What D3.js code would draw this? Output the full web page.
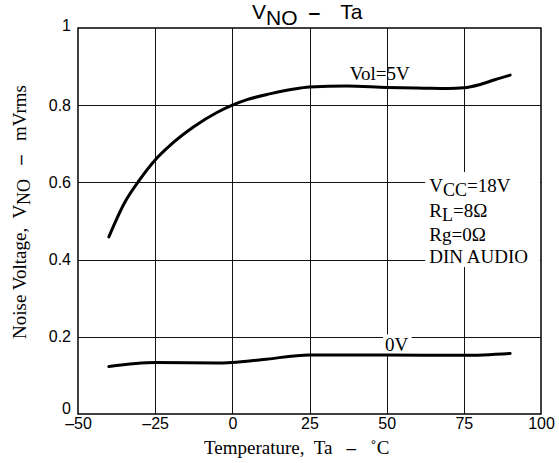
<!DOCTYPE html>
<html>
<head>
<meta charset="utf-8">
<script src="https://cdn.jsdelivr.net/npm/d3@7"></script>
<style>
  body { margin: 0; background: #fff; }
  svg { display: block; }
  text { white-space: pre; }
</style>
</head>
<body>
<svg width="559" height="463"></svg>
<script>
// curve data
var temps5 = [-40, -35, -30, -25, -20, -12.5, -5, 0, 5, 12.5, 20, 25, 37, 50, 62, 70, 75, 80, 85, 90];
var vol5 = [0.459, 0.546, 0.607, 0.658, 0.697, 0.744, 0.781, 0.800, 0.815, 0.830, 0.842, 0.847, 0.850, 0.846, 0.844, 0.843, 0.845, 0.853, 0.866, 0.878];
var temps0 = [-40, -25, -5, 0, 10, 25, 50, 75, 90];
var vol0 = [0.123, 0.1335, 0.132, 0.1335, 0.141, 0.153, 0.153, 0.152, 0.157];

var xTicks = [-50, -25, 0, 25, 50, 75, 100];
var yTicks = [0, 0.2, 0.4, 0.6, 0.8, 1];
var notes = ['VCC=18V', 'RL=8Ω', 'Rg=0Ω', 'DIN AUDIO'];

var svg = d3.select('svg');

var scaleX = d3.scaleLinear().domain([-50, 100]).range([78, 541]);
var scaleY = d3.scaleLinear().domain([0, 1]).range([414, 28]);

var sans = '"Liberation Sans Narrow", "Arial Narrow", "Liberation Sans", sans-serif';
var serif = '"Liberation Serif", "Times New Roman", serif';

// grid
var grid = svg.append('g').attr('stroke', '#111').attr('stroke-width', 1);
grid.selectAll('line.v')
    .data(xTicks.slice(1, -1))
    .enter()
    .append('line')
    .attr('x1', function(d){ return Math.round(scaleX(d)) + 0.5; })
    .attr('x2', function(d){ return Math.round(scaleX(d)) + 0.5; })
    .attr('y1', scaleY(1))
    .attr('y2', scaleY(0));
grid.selectAll('line.h')
    .data(yTicks.slice(1, -1))
    .enter()
    .append('line')
    .attr('y1', function(d){ return Math.round(scaleY(d)) + 0.5; })
    .attr('y2', function(d){ return Math.round(scaleY(d)) + 0.5; })
    .attr('x1', scaleX(-50))
    .attr('x2', scaleX(100));

var masks = svg.append('g');
var curves = svg.append('g');
var labels = svg.append('g').attr('font-family', serif).attr('font-size', 19);

// curves
var line = d3.line()
    .x(function(d){ return scaleX(d[0]); })
    .y(function(d){ return scaleY(d[1]); })
    .curve(d3.curveMonotoneX);

curves.append('path')
    .datum(d3.zip(temps5, vol5))
    .attr('d', line)
    .attr('fill', 'none')
    .attr('stroke', '#000')
    .attr('stroke-width', 3)
    .attr('stroke-linecap', 'round');

curves.append('path')
    .datum(d3.zip(temps0, vol0))
    .attr('d', line)
    .attr('fill', 'none')
    .attr('stroke', '#000')
    .attr('stroke-width', 3)
    .attr('stroke-linecap', 'round');

// curve labels
labels.append('text')
    .attr('x', scaleX(38))
    .attr('y', scaleY(0.866))
    .text('Vol=5V');

var zeroLabel = labels.append('text')
    .attr('x', scaleX(49.5))
    .attr('y', scaleY(0.162))
    .text('0V');
var zb = zeroLabel.node().getBBox();
masks.append('rect')
    .attr('x', zb.x - 2).attr('y', zb.y)
    .attr('width', zb.width + 5).attr('height', zb.height)
    .attr('fill', '#fff');

// condition notes
var noteX = scaleX(63.8);
var noteY = [192, 217, 241, 263];
var noteG = labels.append('g');
notes.forEach(function(n, i){
    var t = noteG.append('text').attr('x', noteX).attr('y', noteY[i]);
    if (i < 2) {
        var main = n.slice(0, 1);
        var sub = i === 0 ? 'CC' : 'L';
        var rest = n.slice(1 + sub.length);
        t.append('tspan').text(main);
        t.append('tspan').attr('dy', 4).attr('font-size', 18).text(sub);
        t.append('tspan').attr('dy', -4).text(rest);
    } else {
        t.text(n);
    }
});
masks.append('rect')
    .attr('x', noteX - 4).attr('y', 172)
    .attr('width', scaleX(100) - noteX + 3).attr('height', 95)
    .attr('fill', '#fff');

// border
svg.append('rect')
    .attr('x', scaleX(-50)).attr('y', scaleY(1))
    .attr('width', scaleX(100) - scaleX(-50))
    .attr('height', scaleY(0) - scaleY(1))
    .attr('fill', 'none')
    .attr('stroke', '#000')
    .attr('stroke-width', 1.5);

// axes (labels only)
var xAxis = svg.append('g')
    .attr('transform', 'translate(0,' + scaleY(0) + ')')
    .call(d3.axisBottom(scaleX).tickValues(xTicks).tickSize(0).tickPadding(4)
        .tickFormat(function(d){ return d < 0 ? '\u2013' + Math.abs(d) : d; }));
var yAxis = svg.append('g')
    .attr('transform', 'translate(' + scaleX(-50) + ',0)')
    .call(d3.axisLeft(scaleY).tickValues(yTicks).tickSize(0).tickPadding(7)
        .tickFormat(function(d){ return d; }));
svg.selectAll('.domain').remove();
svg.selectAll('.tick text')
    .attr('font-family', sans)
    .attr('font-size', 16)
    .attr('fill', '#000');
yAxis.selectAll('.tick text').attr('dy', function(d){ return d === 0 ? '-0.05em' : d === 1 ? '0.15em' : '0.32em'; });

// title
var title = svg.append('text')
    .attr('x', 252)
    .attr('y', 18.5)
    .attr('font-family', '"Liberation Sans", Arial, sans-serif')
    .attr('font-size', 21);
title.append('tspan').text('V');
title.append('tspan').attr('dy', 6).text('NO');
title.append('tspan').attr('dy', -6).attr('dx', 11).attr('font-weight', 'bold').text('\u2013');
title.append('tspan').attr('dx', 20).text('Ta');

// axis titles
var xTitle = svg.append('text')
    .attr('x', 204)
    .attr('y', 454)
    .attr('font-family', serif)
    .attr('font-size', 19);
xTitle.append('tspan').text('Temperature,  Ta   ');
xTitle.append('tspan').attr('font-weight', 'bold').text('\u2013');
xTitle.append('tspan').text('   \u02DAC');

var yTitle = svg.append('text')
    .attr('transform', 'translate(26,212) rotate(-90)')
    .attr('text-anchor', 'middle')
    .attr('font-family', serif)
    .attr('font-size', 19);
yTitle.append('tspan').text('Noise Voltage,  V');
yTitle.append('tspan').attr('dy', 4).attr('font-size', 18).text('NO');
yTitle.append('tspan').attr('dy', -4).text('   ');
yTitle.append('tspan').attr('font-weight', 'bold').text('\u2013');
yTitle.append('tspan').text('   mVrms');
</script>
</body>
</html>
